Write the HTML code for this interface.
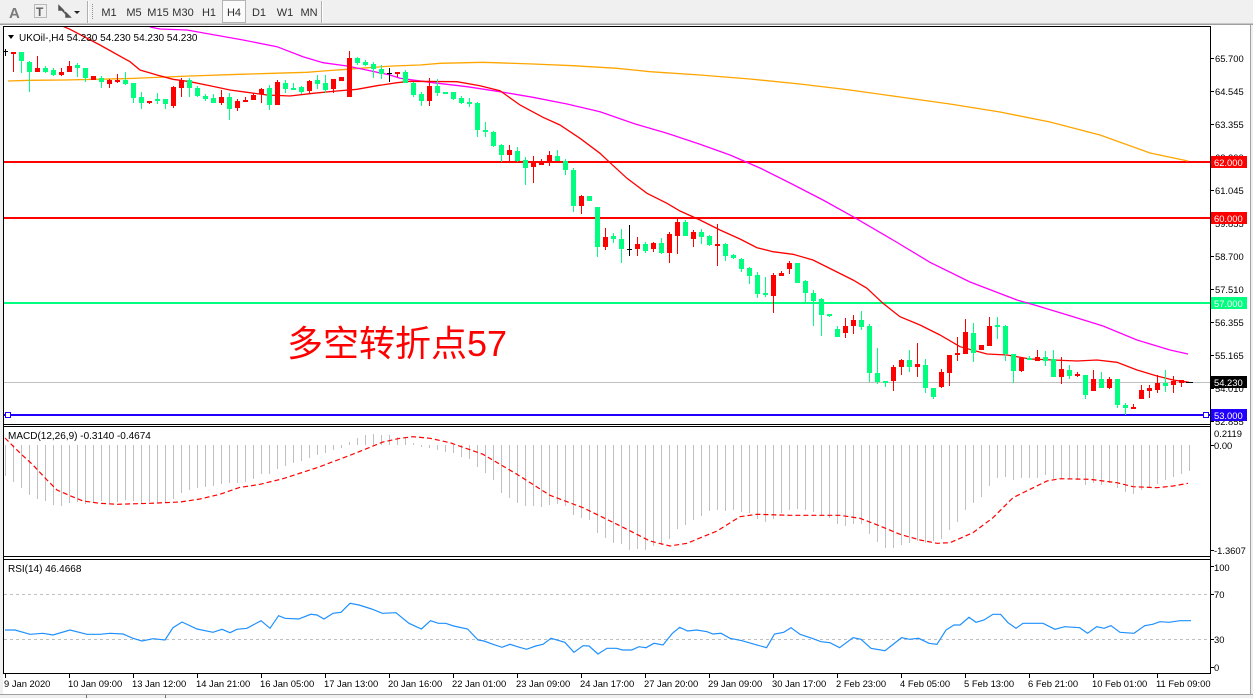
<!DOCTYPE html>
<html><head><meta charset="utf-8"><style>
html,body{margin:0;padding:0;background:#f0f0f0;width:1253px;height:698px;overflow:hidden}
svg{display:block}
text{font-family:"Liberation Sans","DejaVu Sans",sans-serif}
</style></head><body>
<svg width="1253" height="698" viewBox="0 0 1253 698" xmlns="http://www.w3.org/2000/svg">
<defs><clipPath id="cm"><rect x="4" y="27" width="1206" height="397"/></clipPath>
<clipPath id="cd"><rect x="4" y="427" width="1206" height="129"/></clipPath>
<clipPath id="cr"><rect x="4" y="560" width="1206" height="113"/></clipPath></defs>
<rect x="0" y="0" width="1253" height="698" fill="#f0f0f0"/>
<!-- toolbar -->
<g shape-rendering="crispEdges">
<line x1="0" y1="23.5" x2="1253" y2="23.5" stroke="#c8c8c8"/>
<line x1="0" y1="24.5" x2="1253" y2="24.5" stroke="#a0a0a0"/>
<rect x="222.5" y="0.5" width="23" height="22" fill="#fbfbfb" stroke="#b4b4b4"/>
<line x1="87.5" y1="1" x2="87.5" y2="23" stroke="#b0b0b0"/>
<line x1="88.5" y1="1" x2="88.5" y2="23" stroke="#ffffff"/>
<line x1="92.5" y1="4" x2="92.5" y2="20" stroke="#909090" stroke-dasharray="1 1"/>
<line x1="321.5" y1="1" x2="321.5" y2="23" stroke="#b0b0b0"/>
<line x1="322.5" y1="1" x2="322.5" y2="23" stroke="#ffffff"/>
<rect x="34.5" y="4.5" width="12" height="13" fill="none" stroke="#808080" stroke-dasharray="1 1"/>
</g>
<text x="9" y="18" font-size="15" fill="#7a7a7a" font-weight="bold">A</text>
<text x="36" y="16" font-size="12" fill="#606060" font-weight="bold">T</text>
<path d="M59 6l4 4-4 0zM66 13l4 4-4 0zM61 9l6 6" stroke="#555" fill="#555" stroke-width="1.5"/>
<polygon points="74,11 80,11 77,14" fill="#222"/>
<g font-size="11" fill="#303030" text-anchor="middle">
<text x="109" y="16">M1</text><text x="134" y="16">M5</text><text x="158" y="16">M15</text><text x="183" y="16">M30</text><text x="209" y="16">H1</text><text x="234" y="16">H4</text><text x="259" y="16">D1</text><text x="285" y="16">W1</text><text x="309" y="16">MN</text>
</g>
<!-- chart window -->
<rect x="3" y="25" width="1247" height="670" fill="#ffffff"/>
<g shape-rendering="crispEdges">
<line x1="1250.5" y1="25" x2="1250.5" y2="695" stroke="#a0a0a0"/>
<line x1="0" y1="694.5" x2="1253" y2="694.5" stroke="#a0a0a0"/>
<rect x="0" y="695" width="1253" height="3" fill="#f0f0f0"/>
<line x1="86.5" y1="695" x2="86.5" y2="698" stroke="#707070"/>
<line x1="165.5" y1="695" x2="165.5" y2="698" stroke="#707070"/>
</g>
<!-- main panel -->
<g clip-path="url(#cm)">
<g shape-rendering="crispEdges">
<line x1="4" y1="382.5" x2="1210" y2="382.5" stroke="#c0c0c0"/>
<rect x="4" y="161" width="1206" height="2" fill="#ff0000"/>
<rect x="4" y="217" width="1206" height="2" fill="#ff0000"/>
<rect x="4" y="302" width="1206" height="2" fill="#00ff7f"/>
<rect x="4" y="414" width="1206" height="2" fill="#2200ff"/>
<rect x="5.5" y="412.5" width="5" height="5" fill="#fff" stroke="#2200ff"/>
<rect x="1203.5" y="412.5" width="5" height="5" fill="#fff" stroke="#2200ff"/>
</g>
<polyline fill="none" stroke="#ffa500" stroke-width="1.3" points="8,81 30,80.3 65,80 130,78.5 190,76 240,74.3 273,73.3 307,72.3 323,71 347,69.3 373,67.3 393,66 420,65 440,63.3 483,62.3 533,64 573,65.7 617,68.3 650,71.7 700,75 750,79 800,84 850,90 900,97 950,104 1000,112 1050,122 1100,135 1150,153 1188,161"/>
<polyline fill="none" stroke="#ff00ff" stroke-width="1.3" points="150,27 160,29 187,30 243,40 277,46.7 303,56.7 323,62.7 347,66 363,69.3 390,75 400,78.3 433,82.7 467,86.7 500,91.7 533,97.3 567,104 600,111.7 633,123.3 667,133.3 700,144.3 730,155 760,168 790,183 823,200 853,216.7 893,240 930,262.3 970,282 1017,300 1037,305.7 1070,315.7 1103,326 1137,340 1170,350 1188,354"/>
<polyline fill="none" stroke="#ff0000" stroke-width="1.3" points="60,25 70,29.3 100,45 130,61.7 140,70 157,75 173,79.3 190,81.7 210,85.7 230,90 247,92.3 267,95 290,96 313,93.3 337,91 357,89.3 377,85.7 397,82.7 410,81.3 457,81.7 480,85.7 500,90.7 520,105 543,117.3 560,125 580,138.3 600,153.3 610,162.7 627,178.3 647,193.3 667,203.3 680,211 700,220 720,230 740,239 757,247.7 773,251.7 793,254.3 813,260 833,270 853,280 867,288.3 883,303.3 900,316.7 920,325 940,335 960,346.7 987,354 1007,355 1030,359 1053,360 1077,361 1097,360 1117,362.3 1137,370 1157,376 1173,380 1189,382.3"/>
<g shape-rendering="crispEdges">
<path fill="none" stroke="#00ff7f" d="M21.5 52V73M29.5 61V92M45.5 66V73M53.5 68V76M77.5 63V77M85.5 68V82M101.5 76V88M125.5 72V85M133.5 83V103M141.5 92V109M157.5 93V104M165.5 99V109M189.5 78V97M197.5 86V97M205.5 94V101M213.5 94V103M229.5 93V120M269.5 85V110M285.5 80V93M293.5 83V90M301.5 86V94M317.5 75V89M325.5 75V93M357.5 57V65M365.5 60V66M373.5 62V78M381.5 65V79M405.5 70V83M413.5 82V97M421.5 92V106M437.5 79V96M445.5 92V94M453.5 92V100M461.5 96V104M469.5 98V107M477.5 102V137M485.5 122V137M493.5 131V147M501.5 144V162M517.5 147V162M525.5 157V185M557.5 150V161M565.5 159V175M573.5 168V212M597.5 207V257M613.5 233V243M621.5 229V263M645.5 242V253M661.5 238V254M685.5 220V236M701.5 229V244M709.5 235V246M725.5 243V261M733.5 254V259M741.5 258V272M749.5 267V284M757.5 272V298M765.5 277V297M797.5 263V283M805.5 280V302M813.5 290V326M821.5 298V336M829.5 314V317M837.5 326V337M861.5 311V330M869.5 324V382M877.5 348V384M885.5 381V387M909.5 350V372M925.5 359V393M933.5 388V399M973.5 323V362M997.5 317V339M1005.5 325V361M1013.5 354V383M1029.5 356V360M1045.5 351V366M1053.5 350V377M1069.5 365V379M1085.5 375V399M1101.5 372V388M1117.5 379V408M1125.5 403V415M1165.5 370V392"/>
<path fill="#00ff7f" d="M19 52h5v9h-5zM27 62h5v10h-5zM43 68h5v4h-5zM51 70h5v5h-5zM75 65h5v3h-5zM83 68h5v10h-5zM99 78h5v4h-5zM123 80h5v4h-5zM131 83h5v15h-5zM139 97h5v6h-5zM155 99h5v2h-5zM163 99h5v5h-5zM187 80h5v8h-5zM195 88h5v8h-5zM203 96h5v3h-5zM211 98h5v5h-5zM227 97h5v12h-5zM267 88h5v17h-5zM283 83h5v6h-5zM291 88h5v2h-5zM299 87h5v5h-5zM315 80h5v4h-5zM323 83h5v7h-5zM355 58h5v5h-5zM363 62h5v3h-5zM371 64h5v5h-5zM379 69h5v5h-5zM403 72h5v11h-5zM411 83h5v12h-5zM419 94h5v7h-5zM435 86h5v7h-5zM443 92h5v2h-5zM451 92h5v7h-5zM459 98h5v5h-5zM467 102h5v2h-5zM475 103h5v27h-5zM483 130h5v2h-5zM491 132h5v14h-5zM499 145h5v10h-5zM515 151h5v10h-5zM523 160h5v8h-5zM555 156h5v5h-5zM563 161h5v9h-5zM571 170h5v36h-5zM587 196h5v5h-5zM595 207h5v40h-5zM611 236h5v3h-5zM619 239h5v10h-5zM643 244h5v7h-5zM659 243h5v10h-5zM683 222h5v14h-5zM699 232h5v5h-5zM707 236h5v9h-5zM723 244h5v12h-5zM731 255h5v3h-5zM739 259h5v10h-5zM747 268h5v8h-5zM755 275h5v19h-5zM763 293h5v2h-5zM795 263h5v20h-5zM803 281h5v12h-5zM811 293h5v8h-5zM819 299h5v16h-5zM827 314h5v2h-5zM835 329h5v8h-5zM859 320h5v7h-5zM867 326h5v47h-5zM875 373h5v9h-5zM883 381h5v2h-5zM907 360h5v7h-5zM923 365h5v23h-5zM931 388h5v9h-5zM971 333h5v20h-5zM995 325h5v2h-5zM1003 326h5v28h-5zM1011 354h5v17h-5zM1027 358h5v2h-5zM1043 357h5v4h-5zM1051 359h5v18h-5zM1067 370h5v6h-5zM1083 375h5v20h-5zM1099 379h5v9h-5zM1115 379h5v26h-5zM1123 405h5v3h-5zM1163 383h5v3h-5z"/>
<path fill="none" stroke="#ff0000" d="M13.5 52V72M37.5 56V72M61.5 68V76M69.5 61V72M93.5 76V80M109.5 79V88M117.5 74V83M149.5 101V104M173.5 86V108M181.5 78V97M221.5 90V105M237.5 99V111M245.5 97V102M253.5 93V100M261.5 88V103M277.5 80V105M309.5 80V93M333.5 79V93M341.5 77V81M349.5 51V97M397.5 72V77M429.5 78V106M509.5 145V161M533.5 156V183M541.5 159V165M549.5 151V166M581.5 195V214M605.5 228V250M637.5 237V256M653.5 242V252M669.5 232V263M677.5 217V254M693.5 230V247M717.5 224V266M773.5 273V313M781.5 271V276M789.5 261V274M845.5 318V338M853.5 315V334M893.5 365V391M901.5 359V375M917.5 343V377M941.5 369V388M949.5 355V386M957.5 337V361M965.5 319V354M981.5 345V350M989.5 317V346M1021.5 358V372M1037.5 350V361M1061.5 357V384M1077.5 372V377M1093.5 370V391M1109.5 377V389M1133.5 404V409M1141.5 385V399M1149.5 385V398M1157.5 375V393M1173.5 376V393M1181.5 380V387"/>
<path fill="#ff0000" d="M11 52h5v2h-5zM35 68h5v4h-5zM59 72h5v3h-5zM67 66h5v6h-5zM91 76h5v4h-5zM107 80h5v4h-5zM115 80h5v2h-5zM147 101h5v2h-5zM171 87h5v19h-5zM179 80h5v8h-5zM219 97h5v6h-5zM235 101h5v7h-5zM243 100h5v2h-5zM251 95h5v5h-5zM259 89h5v5h-5zM275 82h5v23h-5zM307 81h5v10h-5zM331 79h5v10h-5zM339 77h5v4h-5zM347 58h5v39h-5zM395 72h5v2h-5zM427 86h5v15h-5zM507 150h5v5h-5zM531 162h5v5h-5zM539 163h5v2h-5zM547 155h5v8h-5zM579 196h5v10h-5zM603 237h5v10h-5zM635 244h5v5h-5zM651 243h5v6h-5zM667 234h5v19h-5zM675 222h5v14h-5zM691 232h5v7h-5zM715 244h5v2h-5zM771 275h5v21h-5zM779 273h5v3h-5zM787 263h5v6h-5zM843 326h5v7h-5zM851 320h5v6h-5zM891 367h5v14h-5zM899 360h5v7h-5zM915 364h5v3h-5zM939 372h5v15h-5zM947 355h5v18h-5zM955 353h5v2h-5zM963 332h5v22h-5zM979 345h5v5h-5zM987 326h5v20h-5zM1019 358h5v13h-5zM1035 357h5v4h-5zM1059 369h5v8h-5zM1075 374h5v2h-5zM1091 379h5v12h-5zM1107 379h5v9h-5zM1131 407h5v2h-5zM1139 390h5v9h-5zM1147 388h5v3h-5zM1155 383h5v7h-5zM1171 381h5v4h-5zM1179 380h5v3h-5z"/>
<path fill="none" stroke="#000000" d="M5.5 49V56M3 51.5H8M389.5 68V82M387 73.5H392M629.5 225V256M627 249.5H632M1186 382.5H1193"/>
</g>
</g>
<text x="287" y="356" font-size="36" fill="#ff0000" font-family="'Liberation Sans','Noto Sans CJK SC',sans-serif">多空转折点57</text>
<polygon points="8,35 14,35 11,39" fill="#000"/>
<text x="19" y="41" font-size="10" fill="#000">UKOil-,H4  54.230 54.230 54.230 54.230</text>
<!-- MACD panel -->
<g clip-path="url(#cd)">
<path fill="none" stroke="#c0c0c0" shape-rendering="crispEdges" d="M5.5 445V476M13.5 445V482M21.5 445V488M29.5 445V495M37.5 445V499M45.5 445V501M53.5 445V505M61.5 445V506M69.5 445V503M77.5 445V502M85.5 445V504M93.5 445V502M101.5 445V501M109.5 445V503M117.5 445V502M125.5 445V500M133.5 445V501M141.5 445V503M149.5 445V502M157.5 445V502M165.5 445V503M173.5 445V499M181.5 445V493M189.5 445V490M197.5 445V488M205.5 445V487M213.5 445V486M221.5 445V484M229.5 445V483M237.5 445V483M245.5 445V482M253.5 445V479M261.5 445V474M269.5 445V474M277.5 445V469M285.5 445V466M293.5 445V463M301.5 445V461M309.5 445V458M317.5 445V455M325.5 445V453M333.5 445V450M341.5 445V448M349.5 445V442M357.5 445V438M365.5 445V435M373.5 445V434M381.5 445V435M389.5 445V435M397.5 445V437M405.5 445V438M413.5 445V443M421.5 445V447M429.5 445V448M437.5 445V450M445.5 445V452M453.5 445V453M461.5 445V457M469.5 445V459M477.5 445V467M485.5 445V473M493.5 445V480M501.5 445V493M509.5 445V498M517.5 445V503M525.5 445V506M533.5 445V506M541.5 445V507M549.5 445V505M557.5 445V504M565.5 445V506M573.5 445V515M581.5 445V518M589.5 445V520M597.5 445V533M605.5 445V538M613.5 445V543M621.5 445V544M629.5 445V550M637.5 445V549M645.5 445V550M653.5 445V546M661.5 445V545M669.5 445V539M677.5 445V529M685.5 445V525M693.5 445V520M701.5 445V516M709.5 445V511M717.5 445V510M725.5 445V511M733.5 445V510M741.5 445V512M749.5 445V513M757.5 445V519M765.5 445V522M773.5 445V519M781.5 445V513M789.5 445V510M797.5 445V509M805.5 445V510M813.5 445V512M821.5 445V516M829.5 445V518M837.5 445V524M845.5 445V526M853.5 445V524M861.5 445V524M869.5 445V534M877.5 445V542M885.5 445V548M893.5 445V548M901.5 445V545M909.5 445V543M917.5 445V541M925.5 445V543M933.5 445V541M941.5 445V539M949.5 445V530M957.5 445V522M965.5 445V510M973.5 445V503M981.5 445V497M989.5 445V486M997.5 445V478M1005.5 445V477M1013.5 445V480M1021.5 445V478M1029.5 445V478M1037.5 445V478M1045.5 445V475M1053.5 445V479M1061.5 445V479M1069.5 445V479M1077.5 445V480M1085.5 445V485M1093.5 445V483M1101.5 445V485M1109.5 445V483M1117.5 445V488M1125.5 445V492M1133.5 445V494M1141.5 445V490M1149.5 445V488M1157.5 445V484M1165.5 445V480M1173.5 445V477M1181.5 445V474M1189.5 445V471"/>
<polyline fill="none" stroke="#ff0000" stroke-width="1.2" stroke-dasharray="5 3" points="5,438 20,453 33,465 47,480 57,490 70,495.7 83,501 100,503.3 117,504.3 150,503.3 180,502 200,499 220,494.3 240,487.3 250,486 260,484.3 283,478.7 317,467.7 350,455.3 383,442 400,438.3 413,436.7 430,438.3 450,442.7 483,454.3 517,474.3 550,495.3 583,507.7 617,524.3 650,541 670,546 687,543.3 717,531 740,516.7 757,514.3 790,515.3 840,515.3 860,518.3 880,526 900,534.3 920,540 937,543.3 950,542.7 973,532.7 993,517.7 1013,497.7 1030,489.3 1047,481 1060,478.7 1090,479.3 1117,482.7 1133,486.7 1157,487.7 1173,486 1188,483.3"/>
</g>
<text x="8" y="439" font-size="10" fill="#000">MACD(12,26,9) -0.3140 -0.4674</text>
<!-- RSI panel -->
<g clip-path="url(#cr)">
<g shape-rendering="crispEdges" stroke="#c0c0c0" stroke-dasharray="3 3">
<line x1="4" y1="594.5" x2="1210" y2="594.5"/>
<line x1="4" y1="639.5" x2="1210" y2="639.5"/>
</g>
<polyline fill="none" stroke="#1e90ff" stroke-width="1.2" points="5,630 15,630 30,634.3 43,633.3 53,635 70,630 87,634.3 100,634.3 110,633.3 123,634 133,638.3 142,641 153,638.7 165,640 173,627.7 182,622 197,629 213,632.3 222,629.3 230,632.7 237,629.3 247,628.3 261,620.7 270,628.3 278.6,615.7 285,618.3 298.6,619 310.8,614.3 317,615 324,619 333,613.3 341,612.3 350,603.3 359,605 371.6,609 382.5,613.3 395.9,612.7 409,623.3 421.4,629 430.5,620.7 438.4,623.3 445.7,623.3 453.6,626 467.6,629 478,640 484,641 493,644.3 502,647.3 510,644.3 517.4,646.7 526.5,649.3 535.7,646 543,644.3 551,638.3 564.8,642.3 574,652.3 583,645.7 589,646 598,654 607,648.3 616.5,648.3 622.6,650 631.7,650 639,646.7 646,647.7 654,643.3 663,645 672.4,633.3 679.7,627.3 687.6,631 696.7,630 707,631.7 713,634 721,633.3 730,638.3 742,640.7 754.5,644.3 766.6,647.7 774.5,634 783.7,632.3 791,627.7 800,634.3 812,638.3 821,641.7 830,642.7 839.6,647.7 853,637.7 861,639.3 871,648.3 885,650.7 901.6,637.7 909.5,639.3 918.6,638.3 929,643.3 937,644.3 946,630 954,625 960,625 969,617.3 976,622.3 984,620 993,614.3 1000.6,614.3 1008,622.7 1016,628.3 1023,623.3 1043,623.3 1055,629.3 1064.5,626.7 1079.6,627.7 1087.6,633.3 1096.7,626.7 1104,628.3 1111,625.7 1120,632.3 1134,633.3 1144.7,625.7 1152.6,624.3 1160,621.7 1169,622.3 1180,620.7 1191,620.7"/>
</g>
<text x="8" y="572" font-size="10" fill="#000">RSI(14) 46.4668</text>
<!-- borders -->
<g shape-rendering="crispEdges" stroke="#000" fill="none">
<line x1="3.5" y1="26.5" x2="1210.5" y2="26.5"/>
<line x1="3.5" y1="26" x2="3.5" y2="674"/>
<line x1="1210.5" y1="26" x2="1210.5" y2="674"/>
<line x1="3.5" y1="424.5" x2="1210.5" y2="424.5"/>
<line x1="3.5" y1="426.5" x2="1210.5" y2="426.5"/>
<line x1="3.5" y1="556.5" x2="1210.5" y2="556.5"/>
<line x1="3.5" y1="559.5" x2="1210.5" y2="559.5"/>
<line x1="3.5" y1="673.5" x2="1210.5" y2="673.5"/>
<path d="M1210 58.5h4M1210 91.5h4M1210 124.5h4M1210 157.5h4M1210 190.5h4M1210 223.5h4M1210 256.5h4M1210 289.5h4M1210 322.5h4M1210 355.5h4M1210 388.5h4M1210 421.5h4M1210 445.5h4M1210 550.5h4M1210 566.5h4M1210 594.5h4M1210 639.5h4M1210 667.5h4"/>
<path d="M5.5 674v4M69.5 674v4M133.5 674v4M197.5 674v4M261.5 674v4M325.5 674v4M389.5 674v4M453.5 674v4M517.5 674v4M581.5 674v4M645.5 674v4M709.5 674v4M773.5 674v4M837.5 674v4M901.5 674v4M965.5 674v4M1029.5 674v4M1093.5 674v4M1157.5 674v4"/>
</g>
<!-- price axis labels -->
<g font-size="9.4" fill="#000">
<text x="1215" y="62">65.700</text><text x="1215" y="95">64.545</text><text x="1215" y="128">63.355</text><text x="1215" y="161">62.200</text><text x="1215" y="194">61.045</text><text x="1215" y="227">59.855</text><text x="1215" y="260">58.700</text><text x="1215" y="293">57.510</text><text x="1215" y="326">56.355</text><text x="1215" y="359">55.165</text><text x="1215" y="392">54.010</text><text x="1215" y="425">52.855</text>
<text x="1214" y="437">0.2119</text><text x="1214" y="449">0.00</text><text x="1214" y="554">-1.3607</text>
<text x="1214" y="571">100</text><text x="1214" y="598">70</text><text x="1214" y="643">30</text><text x="1214" y="671">0</text>
</g>
<g shape-rendering="crispEdges">
<rect x="1211" y="156" width="36" height="12" fill="#ff0000"/>
<rect x="1211" y="212" width="36" height="12" fill="#ff0000"/>
<rect x="1211" y="297" width="36" height="12" fill="#00ff7f"/>
<rect x="1211" y="376" width="36" height="12" fill="#000000"/>
<rect x="1211" y="409" width="36" height="12" fill="#2200ff"/>
</g>
<g font-size="9.4" fill="#fff">
<text x="1214" y="166">62.000</text><text x="1214" y="222">60.000</text><text x="1214" y="307">57.000</text><text x="1214" y="386">54.230</text><text x="1214" y="419">53.000</text>
</g>
<!-- time axis -->
<g font-size="9.4" fill="#000">
<text x="4" y="687">9 Jan 2020</text><text x="68" y="687">10 Jan 09:00</text><text x="132" y="687">13 Jan 12:00</text><text x="196" y="687">14 Jan 21:00</text><text x="260" y="687">16 Jan 05:00</text><text x="324" y="687">17 Jan 13:00</text><text x="388" y="687">20 Jan 16:00</text><text x="452" y="687">22 Jan 01:00</text><text x="516" y="687">23 Jan 09:00</text><text x="580" y="687">24 Jan 17:00</text><text x="644" y="687">27 Jan 20:00</text><text x="708" y="687">29 Jan 09:00</text><text x="772" y="687">30 Jan 17:00</text><text x="836" y="687">2 Feb 23:00</text><text x="900" y="687">4 Feb 05:00</text><text x="964" y="687">5 Feb 13:00</text><text x="1028" y="687">6 Feb 21:00</text><text x="1092" y="687">10 Feb 01:00</text><text x="1156" y="687">11 Feb 09:00</text>
</g>
</svg>
</body></html>
